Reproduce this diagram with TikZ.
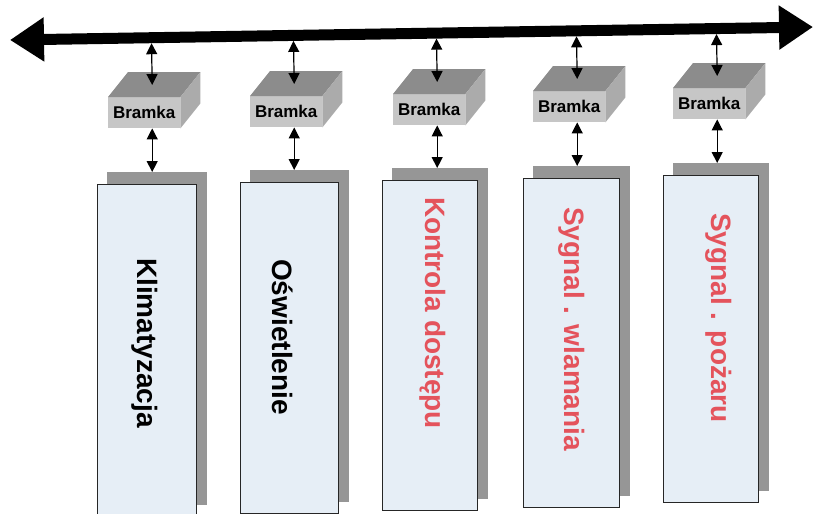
\documentclass[tikz,border=0pt]{standalone}
\usepackage{fontspec}
\setmainfont{Liberation Sans}
\usetikzlibrary{arrows.meta,calc,backgrounds}

\definecolor{panelfill}{HTML}{E6EEF6}
\definecolor{shadowgray}{HTML}{969696}
\definecolor{labelred}{HTML}{E4535C}
\definecolor{gwtop}{HTML}{8C8C8C}
\definecolor{gwfront}{HTML}{C6C6C6}
\definecolor{gwside}{HTML}{ABABAB}

\tikzset{
  bus/.style={line width=11pt, {Triangle[length=34pt,width=42pt]}-{Triangle[length=34pt,width=42pt]}},
  link/.style={line width=1.2pt, {Triangle[length=11pt,width=11pt]}-{Triangle[length=11pt,width=11pt]}},
  gwface/.style={fill=gwfront, minimum width=72pt, minimum height=31pt, inner sep=0pt,
    anchor=north west, font=\bfseries\fontsize{17}{17}\selectfont},
  panel/.style={draw=black!85, line width=0.9pt, fill=panelfill, anchor=north west, inner sep=0pt},
  lbl/.style={rotate=-90, anchor=west, inner sep=0pt, font=\bfseries\fontsize{28}{28}\selectfont},
  lblred/.style={lbl, text=labelred},
}

\begin{document}
\begin{tikzpicture}[x=1pt,y=-1pt]
\useasboundingbox (0,0) rectangle (814,514);
\clip (0,0) rectangle (814,514);

% bus line
\coordinate (busL) at (10,40);
\coordinate (busR) at (813,27);
\draw[bus] (busL) -- (busR);

% gateways (front faces)
\node[gwface] (g1) at (108,97) {Bramka};
\node[gwface] (g2) at (250,96) {Bramka};
\node[gwface] (g3) at (393,94) {Bramka};
\node[gwface] (g4) at (533,91) {Bramka};
\node[gwface] (g5) at (673,88) {Bramka};

% top and side faces of the gateway boxes
\foreach \g in {g1,g2,g3,g4,g5}{
  \fill[gwtop] (\g.north west) -- (\g.north east) -- ++(20,-25)
      -- ($(\g.north west)+(20,-25)$) -- cycle;
  \fill[gwside] (\g.north east) -- ++(20,-25) -- ($(\g.south east)+(20,-25)$)
      -- (\g.south east) -- cycle;
}

% device panels
\node[panel, minimum width=99pt, minimum height=332pt] (p1) at (97,184) {};
\node[panel, minimum width=98pt, minimum height=331pt] (p2) at (240,182) {};
\node[panel, minimum width=95pt, minimum height=330pt] (p3) at (382,180) {};
\node[panel, minimum width=96pt, minimum height=329pt] (p4) at (523,178) {};
\node[panel, minimum width=95pt, minimum height=327pt] (p5) at (663,175) {};

% panel shadows behind
\begin{scope}[on background layer]
\foreach \p in {p1,p2,p3,p4,p5}{
  \fill[shadowgray] ($(\p.south west)+(10,-12)$) rectangle ($(\p.north east)+(10,-12)$);
}
\end{scope}

% labels
\node[lbl] (l1) at (145,258) {Klimatyzacja};
\node[lbl] (l2) at (283,259) {Oświetlenie};
\node[lblred] (l3) at (433,197) {Kontrola dostępu};
\node[lblred] (l4) at (572,207) {Sygnal . wlamania};
\node[lblred] (l5) at (719,213) {Sygnal . pożaru};

% connections bus - gateway - panel
\foreach \g/\p in {g1/p1,g2/p2,g3/p3,g4/p4,g5/p5}{
  \coordinate (t\g) at ($(\g.north)+(8,-12)$);
  \draw[link, shorten <=5.5pt] ($(busL)!(t\g)!(busR)$) -- (t\g);
  \coordinate (b\g) at ($(\g.south)+(8,0)$);
  \coordinate (s\p) at ($(\p.north)+(0,-12)$);
  \draw[link] (b\g) -- (b\g |- s\p);
}
\end{tikzpicture}
\end{document}
